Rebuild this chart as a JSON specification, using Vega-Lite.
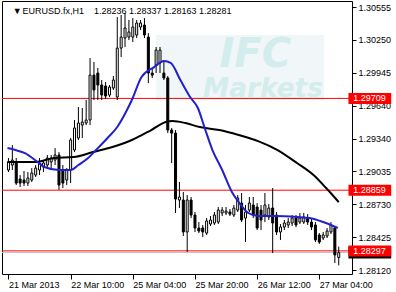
{
  "$schema": "https://vega.github.io/schema/vega-lite/v6.json",
  "width": 350,
  "height": 273,
  "autosize": {"type": "none"},
  "padding": {"left": 2, "top": 1, "right": 44, "bottom": 18},
  "background": "white",
  "config": {
    "view": {"stroke": "black", "strokeWidth": 1},
    "font": "Liberation Sans",
    "axis": {"labelFont": "Liberation Sans", "labelFontSize": 9, "labelColor": "black", "tickColor": "black", "domain": false, "grid": false, "title": null, "labelOverlap": false, "labelBound": false, "tickCount": 30}
  },
  "datasets": {
    "bars": [
      {"i":0,"o":1.29046,"h":1.29157,"l":1.29027,"c":1.2912},
      {"i":1,"o":1.29092,"h":1.29277,"l":1.29046,"c":1.29138},
      {"i":2,"o":1.2912,"h":1.29157,"l":1.28907,"c":1.28925},
      {"i":3,"o":1.28962,"h":1.28999,"l":1.28888,"c":1.28925},
      {"i":4,"o":1.28953,"h":1.29037,"l":1.28898,"c":1.28925},
      {"i":5,"o":1.28925,"h":1.29027,"l":1.28898,"c":1.28972},
      {"i":6,"o":1.28953,"h":1.29064,"l":1.28935,"c":1.29018},
      {"i":7,"o":1.28999,"h":1.29092,"l":1.28981,"c":1.29064},
      {"i":8,"o":1.29046,"h":1.29157,"l":1.28999,"c":1.29111},
      {"i":9,"o":1.29074,"h":1.29138,"l":1.29027,"c":1.29111},
      {"i":10,"o":1.29092,"h":1.29185,"l":1.29064,"c":1.29157},
      {"i":11,"o":1.2912,"h":1.29185,"l":1.29064,"c":1.29157},
      {"i":12,"o":1.29138,"h":1.29249,"l":1.29092,"c":1.29185},
      {"i":13,"o":1.29185,"h":1.29212,"l":1.28861,"c":1.28907},
      {"i":14,"o":1.29046,"h":1.29092,"l":1.28879,"c":1.28925},
      {"i":15,"o":1.28953,"h":1.29064,"l":1.28907,"c":1.29046},
      {"i":16,"o":1.29046,"h":1.29342,"l":1.28925,"c":1.29324},
      {"i":17,"o":1.29231,"h":1.29509,"l":1.29212,"c":1.29435},
      {"i":18,"o":1.29342,"h":1.29629,"l":1.29324,"c":1.29481},
      {"i":19,"o":1.29462,"h":1.2962,"l":1.29342,"c":1.2949},
      {"i":20,"o":1.29481,"h":1.29694,"l":1.29462,"c":1.29509},
      {"i":21,"o":1.29509,"h":1.30083,"l":1.29462,"c":1.29925},
      {"i":22,"o":1.29925,"h":1.30046,"l":1.29694,"c":1.29787},
      {"i":23,"o":1.29944,"h":1.2999,"l":1.29694,"c":1.29833},
      {"i":24,"o":1.29833,"h":1.29879,"l":1.29694,"c":1.2974},
      {"i":25,"o":1.29824,"h":1.29861,"l":1.29703,"c":1.29731},
      {"i":26,"o":1.2974,"h":1.29833,"l":1.29722,"c":1.29814},
      {"i":27,"o":1.29805,"h":1.29916,"l":1.29787,"c":1.29879},
      {"i":28,"o":1.29722,"h":1.30462,"l":1.29694,"c":1.30175},
      {"i":29,"o":1.30175,"h":1.30481,"l":1.30092,"c":1.30277},
      {"i":30,"o":1.30268,"h":1.30499,"l":1.30185,"c":1.30361},
      {"i":31,"o":1.30277,"h":1.30435,"l":1.30249,"c":1.30324},
      {"i":32,"o":1.30277,"h":1.30453,"l":1.30231,"c":1.3037},
      {"i":33,"o":1.30296,"h":1.30435,"l":1.30268,"c":1.30407},
      {"i":34,"o":1.3037,"h":1.30435,"l":1.30342,"c":1.30407},
      {"i":35,"o":1.30388,"h":1.30453,"l":1.30268,"c":1.30296},
      {"i":36,"o":1.30277,"h":1.30314,"l":1.29851,"c":1.29944},
      {"i":37,"o":1.29944,"h":1.2999,"l":1.29898,"c":1.29925},
      {"i":38,"o":1.30018,"h":1.30185,"l":1.29944,"c":1.30157},
      {"i":39,"o":1.30037,"h":1.30185,"l":1.29944,"c":1.30157},
      {"i":40,"o":1.29944,"h":1.30046,"l":1.29879,"c":1.29898},
      {"i":41,"o":1.29898,"h":1.29916,"l":1.29388,"c":1.29416},
      {"i":42,"o":1.29416,"h":1.29435,"l":1.29111,"c":1.29388},
      {"i":43,"o":1.29388,"h":1.29416,"l":1.28648,"c":1.28777},
      {"i":44,"o":1.28768,"h":1.28935,"l":1.28694,"c":1.28796},
      {"i":45,"o":1.28768,"h":1.28842,"l":1.28435,"c":1.28472},
      {"i":46,"o":1.28472,"h":1.28814,"l":1.28287,"c":1.28768},
      {"i":47,"o":1.28768,"h":1.28796,"l":1.28601,"c":1.28629},
      {"i":48,"o":1.28629,"h":1.28657,"l":1.28472,"c":1.28509},
      {"i":49,"o":1.28509,"h":1.28564,"l":1.28462,"c":1.28481},
      {"i":50,"o":1.28509,"h":1.28537,"l":1.28425,"c":1.28472},
      {"i":51,"o":1.28462,"h":1.28601,"l":1.28444,"c":1.28574},
      {"i":52,"o":1.28546,"h":1.2862,"l":1.28527,"c":1.28583},
      {"i":53,"o":1.28555,"h":1.28657,"l":1.28537,"c":1.28629},
      {"i":54,"o":1.28564,"h":1.28703,"l":1.28546,"c":1.28675},
      {"i":55,"o":1.28648,"h":1.28703,"l":1.2862,"c":1.28675},
      {"i":56,"o":1.28648,"h":1.28703,"l":1.28629,"c":1.28666},
      {"i":57,"o":1.28657,"h":1.28685,"l":1.2862,"c":1.28638},
      {"i":58,"o":1.28629,"h":1.28722,"l":1.28611,"c":1.28694},
      {"i":59,"o":1.28675,"h":1.28814,"l":1.28657,"c":1.28787},
      {"i":60,"o":1.2874,"h":1.28833,"l":1.28564,"c":1.28583},
      {"i":61,"o":1.28601,"h":1.28722,"l":1.28379,"c":1.28657},
      {"i":62,"o":1.28675,"h":1.28796,"l":1.28657,"c":1.2874},
      {"i":63,"o":1.28722,"h":1.28796,"l":1.28601,"c":1.28629},
      {"i":64,"o":1.28703,"h":1.2874,"l":1.2849,"c":1.28509},
      {"i":65,"o":1.28675,"h":1.28722,"l":1.2849,"c":1.28583},
      {"i":66,"o":1.28629,"h":1.28833,"l":1.28564,"c":1.28722},
      {"i":67,"o":1.28611,"h":1.28731,"l":1.28583,"c":1.28694},
      {"i":68,"o":1.28694,"h":1.28879,"l":1.28277,"c":1.28555},
      {"i":69,"o":1.28629,"h":1.28657,"l":1.28444,"c":1.28472},
      {"i":70,"o":1.28472,"h":1.28546,"l":1.28398,"c":1.28518},
      {"i":71,"o":1.28518,"h":1.28583,"l":1.2849,"c":1.28555},
      {"i":72,"o":1.28537,"h":1.28601,"l":1.28509,"c":1.28564},
      {"i":73,"o":1.28555,"h":1.28629,"l":1.28527,"c":1.28601},
      {"i":74,"o":1.28601,"h":1.28629,"l":1.28518,"c":1.28537},
      {"i":75,"o":1.28564,"h":1.28648,"l":1.28546,"c":1.28601},
      {"i":76,"o":1.28564,"h":1.28648,"l":1.28546,"c":1.28611},
      {"i":77,"o":1.28601,"h":1.28638,"l":1.28537,"c":1.28564},
      {"i":78,"o":1.28564,"h":1.28601,"l":1.2849,"c":1.28518},
      {"i":79,"o":1.28537,"h":1.28564,"l":1.28379,"c":1.28398},
      {"i":80,"o":1.28444,"h":1.28462,"l":1.28361,"c":1.28379},
      {"i":81,"o":1.28416,"h":1.28472,"l":1.28398,"c":1.28444},
      {"i":82,"o":1.28435,"h":1.28509,"l":1.28416,"c":1.28481},
      {"i":83,"o":1.28472,"h":1.28564,"l":1.28453,"c":1.28537},
      {"i":84,"o":1.28509,"h":1.28527,"l":1.28185,"c":1.28259},
      {"i":85,"o":1.28236,"h":1.28337,"l":1.28163,"c":1.28281}
    ],
    "fast": [
      {"i":-0.25,"v":1.29249},{"i":1.75,"v":1.29231},{"i":4.25,"v":1.29203},{"i":7.5,"v":1.2912},{"i":9.25,"v":1.29074},{"i":13,"v":1.29046},{"i":16,"v":1.29046},{"i":18,"v":1.29092},{"i":20.5,"v":1.29157},{"i":23,"v":1.29249},{"i":25.5,"v":1.29342},{"i":28,"v":1.29444},{"i":30.5,"v":1.29601},{"i":31.75,"v":1.29694},{"i":34.25,"v":1.29907},{"i":37.5,"v":1.29999},{"i":40,"v":1.30055},{"i":41.75,"v":1.30037},{"i":44.25,"v":1.29879},{"i":46.75,"v":1.29722},{"i":48.75,"v":1.2962},{"i":50.5,"v":1.29435},{"i":52.5,"v":1.29231},{"i":55,"v":1.29046},{"i":57.5,"v":1.28842},{"i":59.25,"v":1.28749},{"i":61.75,"v":1.28648},{"i":64.25,"v":1.2862},{"i":68.5,"v":1.2862},{"i":74.25,"v":1.28611},{"i":77.5,"v":1.28601},{"i":81,"v":1.28564},{"i":84.75,"v":1.28509}
    ],
    "slow": [
      {"i":-0.25,"v":1.2912},{"i":6.75,"v":1.2912},{"i":11.75,"v":1.29157},{"i":16.75,"v":1.29166},{"i":21.75,"v":1.29212},{"i":26.75,"v":1.29259},{"i":31.75,"v":1.29324},{"i":36.75,"v":1.29416},{"i":40.5,"v":1.2949},{"i":42.25,"v":1.29499},{"i":45.5,"v":1.29481},{"i":49.25,"v":1.29444},{"i":54.25,"v":1.29416},{"i":59.25,"v":1.2937},{"i":64.25,"v":1.29314},{"i":69.25,"v":1.29231},{"i":74.25,"v":1.29111},{"i":78.5,"v":1.28999},{"i":81.75,"v":1.28879},{"i":85,"v":1.28749}
    ],
    "levels": [{"v":1.29709,"t":"1.29709"},{"v":1.28859,"t":"1.28859"},{"v":1.28297,"t":"1.28297"}],
    "bid": [{"v":1.28281}],
    "header": [{"i":1.1,"v":1.30518,"t":"▼"},{"i":3.6,"v":1.30518,"t":"EURUSD.fx,H1\u00a0\u00a0\u00a0 1.28236 1.28337 1.28163 1.28281"}]
  },
  "layer": [
    {
      "data": {"values": [{}]},
      "mark": {"type": "rect", "color": "#f1f6f8"},
      "encoding": {
        "x": {"datum": 38, "type": "quantitative", "scale": {"domain": [-0.375, 87.125], "nice": false, "zero": false},
          "axis": {"orient": "bottom", "values": [0,16,32,48,64,80], "labelExpr": "datum.value==0?'21 Mar 2013':datum.value==16?'22 Mar 10:00':datum.value==32?'25 Mar 04:00':datum.value==48?'25 Mar 20:00':datum.value==64?'26 Mar 12:00':'27 Mar 04:00'", "tickSize": 5, "labelAlign": "left", "labelFlush": false, "labelPadding": 1, "labelOverlap": false, "tickCount": 30}},
        "x2": {"datum": 81.25},
        "y": {"datum": 1.30296, "type": "quantitative", "scale": {"domain": [1.28083, 1.30611], "nice": false, "zero": false},
          "axis": {"orient": "right", "values": [1.2812,1.284244,1.287288,1.290331,1.293375,1.296419,1.299463,1.302506,1.30555], "labelExpr": "format(round(datum.value*20000)/20000, '.5f')", "tickSize": 4, "labelPadding": 2, "labelOverlap": false, "tickCount": 30}},
        "y2": {"datum": 1.29694}
      }
    },
    {
      "data": {"values": [{"i":63.5,"v":1.30111,"t":"IFC","s":40},{"i":65.5,"v":1.29796,"t":"Markets","s":23}]},
      "mark": {"type": "text", "font": "DejaVu Sans", "fontWeight": "bold", "fontStyle": "italic", "color": "#d3ecec", "baseline": "middle", "align": "center"},
      "encoding": {
        "x": {"field": "i", "type": "quantitative"},
        "y": {"field": "v", "type": "quantitative"},
        "text": {"field": "t"},
        "size": {"field": "s", "type": "quantitative", "scale": {"type": "identity"}, "legend": null}
      }
    },
    {
      "data": {"name": "levels"},
      "mark": {"type": "rule", "color": "#ff0000", "strokeWidth": 1},
      "encoding": {"y": {"field": "v", "type": "quantitative"}}
    },
    {
      "data": {"name": "bid"},
      "mark": {"type": "rule", "color": "#c0c0c0", "strokeWidth": 1},
      "encoding": {"y": {"field": "v", "type": "quantitative"}}
    },
    {
      "data": {"name": "bars"},
      "mark": {"type": "rule", "color": "black", "strokeWidth": 1},
      "encoding": {
        "x": {"field": "i", "type": "quantitative"},
        "y": {"field": "l", "type": "quantitative"},
        "y2": {"field": "h"}
      }
    },
    {
      "data": {"name": "bars"},
      "mark": {"type": "bar", "width": 2, "stroke": "black", "strokeWidth": 1},
      "encoding": {
        "x": {"field": "i", "type": "quantitative"},
        "y": {"field": "o", "type": "quantitative"},
        "y2": {"field": "c"},
        "fill": {"condition": {"test": "datum.c >= datum.o", "value": "white"}, "value": "black"}
      }
    },
    {
      "data": {"name": "slow"},
      "mark": {"type": "line", "color": "black", "strokeWidth": 2, "interpolate": "monotone"},
      "encoding": {
        "x": {"field": "i", "type": "quantitative"},
        "y": {"field": "v", "type": "quantitative"}
      }
    },
    {
      "data": {"name": "fast"},
      "mark": {"type": "line", "color": "#2020cc", "strokeWidth": 2, "interpolate": "monotone"},
      "encoding": {
        "x": {"field": "i", "type": "quantitative"},
        "y": {"field": "v", "type": "quantitative"}
      }
    },
    {
      "data": {"name": "header"},
      "mark": {"type": "text", "fontSize": 9, "color": "black", "align": "left", "baseline": "middle"},
      "encoding": {
        "x": {"field": "i", "type": "quantitative"},
        "y": {"field": "v", "type": "quantitative"},
        "text": {"field": "t"}
      }
    },
    {
      "data": {"name": "bid"},
      "mark": {"type": "rule", "color": "black", "strokeWidth": 12, "strokeCap": "butt"},
      "encoding": {
        "x": {"datum": 87.5, "type": "quantitative"},
        "x2": {"datum": 98.5},
        "y": {"field": "v", "type": "quantitative"}
      }
    },
    {
      "data": {"name": "levels"},
      "mark": {"type": "rule", "color": "#ff0000", "strokeWidth": 11, "strokeCap": "butt"},
      "encoding": {
        "x": {"datum": 87.5, "type": "quantitative"},
        "x2": {"datum": 98.5},
        "y": {"field": "v", "type": "quantitative"}
      }
    },
    {
      "data": {"name": "levels"},
      "mark": {"type": "text", "fontSize": 9, "color": "white", "align": "left", "baseline": "middle"},
      "encoding": {
        "x": {"datum": 88.75, "type": "quantitative"},
        "y": {"field": "v", "type": "quantitative"},
        "text": {"field": "t"}
      }
    }
  ]
}
